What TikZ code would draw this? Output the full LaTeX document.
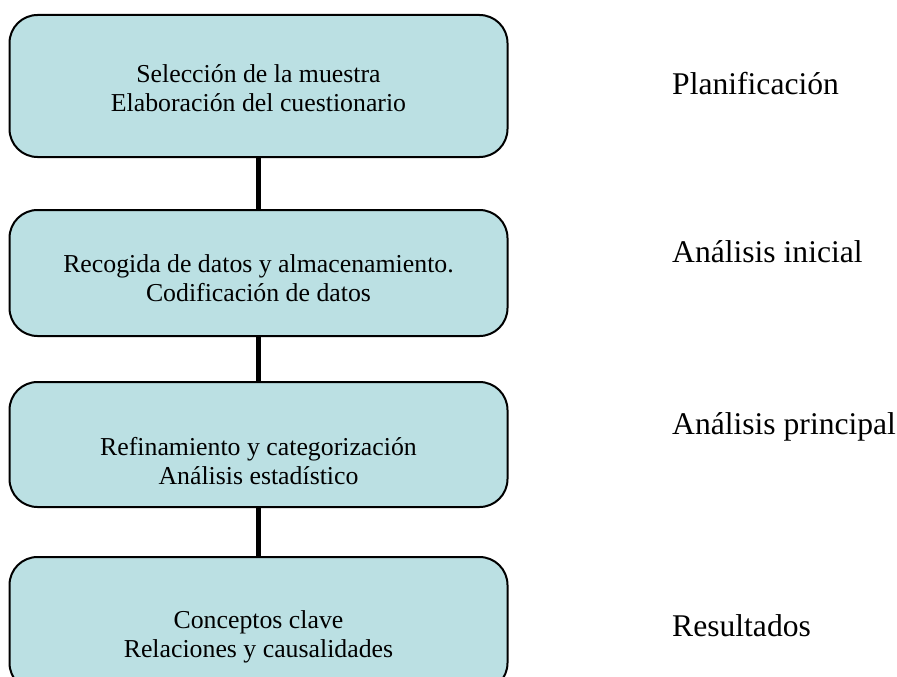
\documentclass[tikz,border=0pt]{standalone}
\usepackage{fontspec}
\setmainfont{Liberation Serif}
\usepackage{tikz}
\usetikzlibrary{positioning}
\definecolor{stagefill}{RGB}{187,224,227}

\begin{document}
\begin{tikzpicture}[x=1pt, y=-1pt,
  stage/.style = {draw, line width=2pt, fill=stagefill, rectangle, rounded corners=28pt, inner sep=0pt, minimum width=498pt},
  stagetext/.style = {anchor=north, align=center, inner sep=0pt, font=\fontsize{25.8}{29}\selectfont},
  phase/.style = {anchor=base west, inner sep=0pt, font=\fontsize{31.6}{36}\selectfont},
  link/.style = {line width=5.5pt}]
\useasboundingbox (0,0) rectangle (897,677);
\node[stage, minimum height=142pt] (b1) at (258.5,86) {};
\node[stage, minimum height=126pt] (b2) at (258.5,273) {};
\node[stage, minimum height=125pt] (b3) at (258.5,444.5) {};
\node[stage, minimum height=134pt] (b4) at (258.5,624) {};
\draw[link] (b1) -- (b2);
\draw[link] (b2) -- (b3);
\draw[link] (b3) -- (b4);
\node[stagetext] (t1) at (258.5,64) {Selección de la muestra\\Elaboración del cuestionario};
\node[stagetext] (t2) at (258.5,254) {Recogida de datos y almacenamiento.\\Codificación de datos};
\node[stagetext] (t3) at (258.5,437) {Refinamiento y categorización\\Análisis estadístico};
\node[stagetext] (t4) at (258.5,610) {Conceptos clave\\Relaciones y causalidades};
\node[phase] (p1) at (672,94) {Planificación};
\node[phase] (p2) at (672,262) {Análisis inicial};
\node[phase] (p3) at (672,434) {Análisis principal};
\node[phase] (p4) at (672,636) {Resultados};
\end{tikzpicture}
\end{document}
